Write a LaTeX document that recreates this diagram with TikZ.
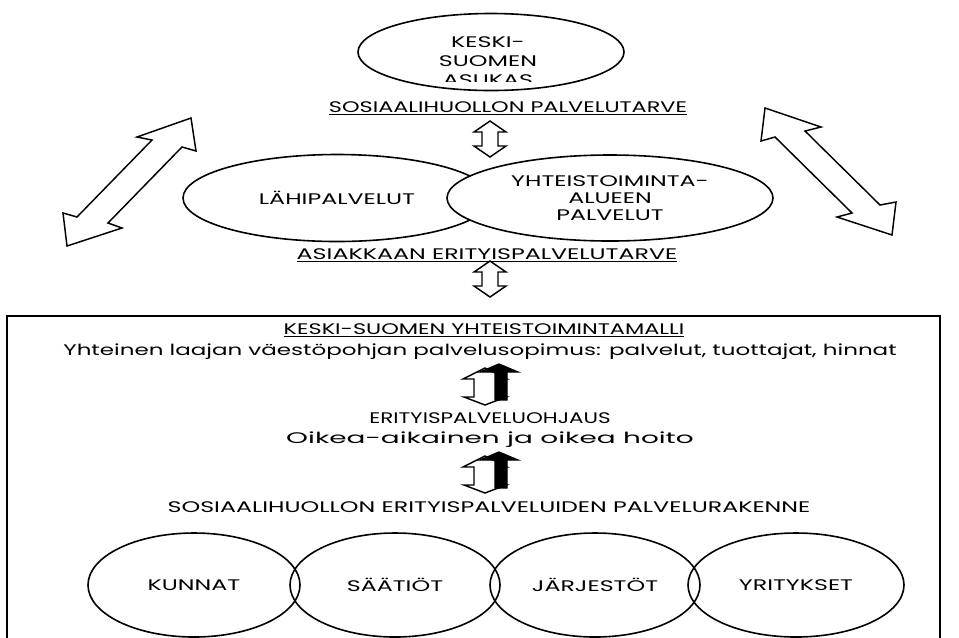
\documentclass[tikz,border=0pt]{standalone}
\usepackage{fontspec}
\setmainfont{Poppins}
\newfontfamily\gf[FakeStretch=1.55]{Poppins}
\newfontfamily\gfy[FakeStretch=1.5]{Poppins}
\newfontfamily\gfm[FakeStretch=1.46]{Poppins}
\newfontfamily\gfs[FakeStretch=1.4]{Poppins}
\newfontfamily\gfo[FakeStretch=1.82]{Poppins}
\usetikzlibrary{shapes.geometric}
\tikzset{
  ell/.style={draw, line width=1.2pt, ellipse, inner sep=0pt, font=\gf\fontsize{11.5}{12.5}\selectfont, align=center},
  lbl/.style={inner sep=0pt, font=\gf\fontsize{11.5}{13}\selectfont, align=center},
  shapeline/.style={draw, line width=1.1pt, line join=miter, fill=white},
  hollowarrow/.pic={
    \path[shapeline] (0,-18) -- (16,-7) -- (8,-7) -- (8,7) -- (16,7) -- (0,18)
      -- (-16,7) -- (-8,7) -- (-8,-7) -- (-16,-7) -- cycle;
  },
  solidarrow/.pic={
    \path[shapeline] (0,-18) -- (22,-7) -- (11,-7) -- (11,11) -- (21,11) -- (0,19)
      -- (-21,11) -- (-11,11) -- (-11,-7) -- (-22,-7) -- cycle;
    \path[draw, line width=1pt, fill=black, line join=miter] (14,-22) -- (33,-14) -- (22,-14)
      -- (22,14) -- (10,14) -- (10,-14) -- (-5,-14) -- cycle;
  }
}
\begin{document}
\begin{tikzpicture}[x=0.75pt,y=-0.75pt]
\useasboundingbox (0,0) rectangle (959,637);

% top ellipse
\node[ell, minimum width=266*0.75pt, minimum height=77*0.75pt] (asukas) at (491,52) {};
\begin{scope}
  \clip (350,0) rectangle (630,81);
  \node[lbl, font=\gf\fontsize{11.5}{14.25}\selectfont] (asukastxt) at (488,61) {KESKI-\\SUOMEN\\ASUKAS};
\end{scope}

\node[lbl, font=\gfm\fontsize{11.5}{13}\selectfont] (tarve1) at (508,108) {\underline{SOSIAALIHUOLLON PALVELUTARVE}};
\pic at (490,139) {hollowarrow};

% middle ellipses
\node[ell, minimum width=308*0.75pt, minimum height=87*0.75pt] (lahi) at (337,198) {LÄHIPALVELUT};
\node[ell, fill=white, minimum width=326*0.75pt, minimum height=86*0.75pt] (yht) at (610,198) {YHTEISTOIMINTA-\\ALUEEN\\PALVELUT};

\node[lbl] (tarve2) at (487,255) {\underline{ASIAKKAAN ERITYISPALVELUTARVE}};
\pic at (490,279) {hollowarrow};

% diagonal double arrows
\path[shapeline] (191,118) -- (196,151) -- (182,147) -- (108,223) -- (122,228) -- (67,246)
  -- (63,213) -- (77,217) -- (152,140) -- (137,137) -- cycle;
\path[shapeline] (765,108) -- (821,127) -- (805,131) -- (880,205) -- (896,202) -- (892,235)
  -- (837,217) -- (852,213) -- (775,137) -- (761,141) -- cycle;

% lower box
\draw[line width=1.1pt] (7,640) -- (7,316) -- (940,316) -- (940,640);
\node[lbl, font=\gfm\fontsize{11.5}{13}\selectfont] (malli) at (484,330) {\underline{KESKI-SUOMEN YHTEISTOIMINTAMALLI}};
\node[lbl, font=\gfy\fontsize{11.5}{13}\selectfont] (sopimus) at (480,352) {Yhteinen laajan väestöpohjan palvelusopimus: palvelut, tuottajat, hinnat};
\pic at (485,386) {solidarrow};
\node[lbl, font=\gfs\fontsize{11.5}{13}\selectfont] (ohjaus) at (490,418) {ERITYISPALVELUOHJAUS};
\node[lbl, font=\gfo\fontsize{11.5}{13}\selectfont] (hoito) at (490,440) {Oikea-aikainen ja oikea hoito};
\pic at (485,474) {solidarrow};
\node[lbl] (rakenne) at (489,507) {SOSIAALIHUOLLON ERITYISPALVELUIDEN PALVELURAKENNE};

\node[ell, minimum width=212*0.75pt, minimum height=104*0.75pt] (kunnat) at (194,585) {KUNNAT};
\node[ell, minimum width=210*0.75pt, minimum height=104*0.75pt] (saatiot) at (395,585) {SÄÄTIÖT};
\node[ell, minimum width=210*0.75pt, minimum height=104*0.75pt] (jarjestot) at (595,585) {JÄRJESTÖT};
\node[ell, minimum width=216*0.75pt, minimum height=104*0.75pt] (yritykset) at (796,585) {YRITYKSET};
\end{tikzpicture}
\end{document}
